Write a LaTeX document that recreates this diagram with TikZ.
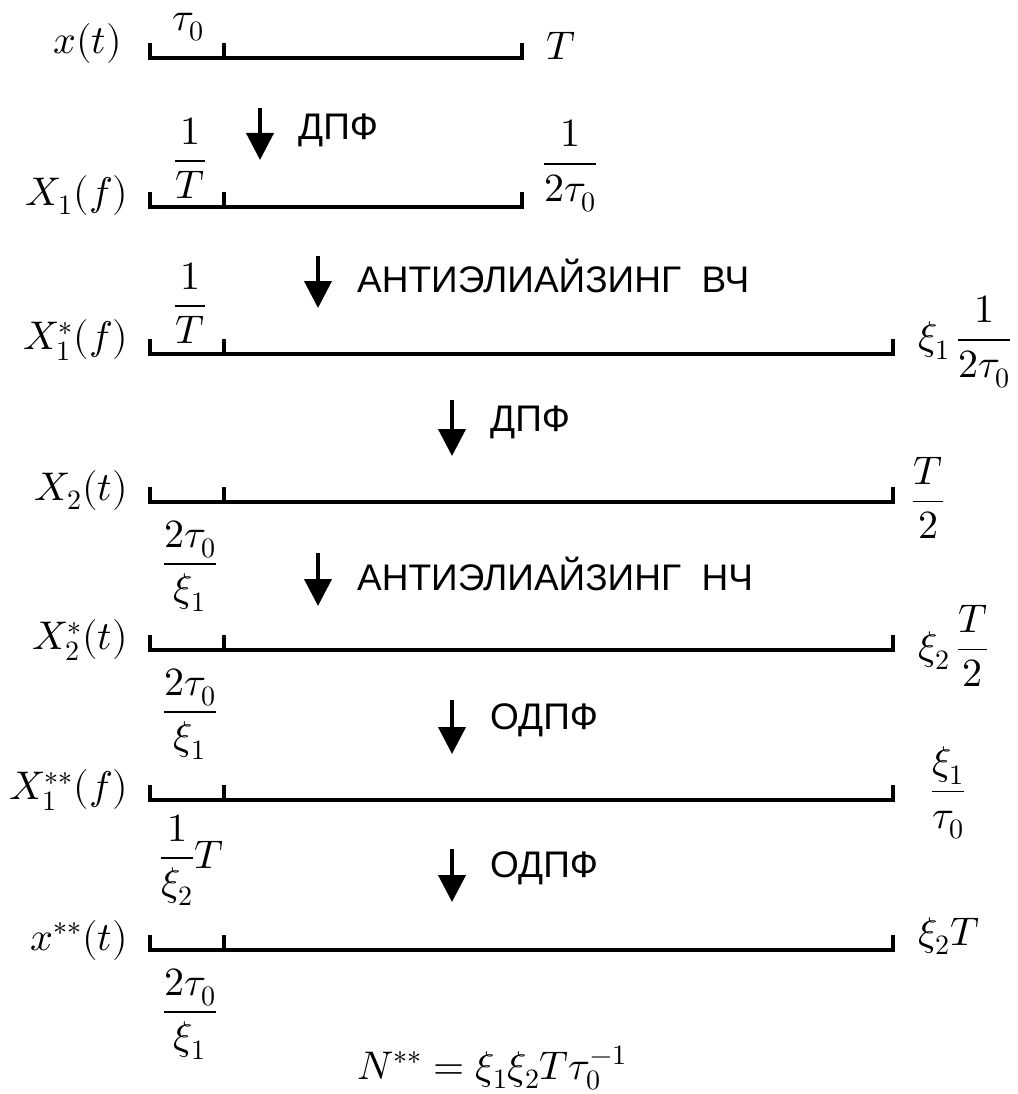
\documentclass[tikz,border=0pt]{standalone}
\usepackage{fontspec}
\usepackage{unicode-math}
\setmathfont{Latin Modern Math}
\newfontfamily\cyr{Liberation Sans}
\usetikzlibrary{arrows.meta}
\tikzset{
  mth/.style={inner sep=0pt, font=\fontsize{40}{48}\selectfont},
  cyrtxt/.style={inner sep=0pt, anchor=west, font=\cyr\fontsize{37}{44}\selectfont},
  scaleln/.style={line width=4pt, line cap=butt, line join=miter},
  downarr/.style={line width=4pt, -{Triangle[width=27pt,length=27pt]}}
}
\newcommand{\scaleline}[3]{% y, right x, name
  \draw[scaleln] (150,#1-15) -- (150,#1) -- (#2,#1) -- (#2,#1-15);
  \draw[scaleln] (224,#1) -- (224,#1-15);
  \coordinate (#3) at (150,#1);
}
\begin{document}
\begin{tikzpicture}[x=1pt,y=-1pt]
\useasboundingbox (0,0) rectangle (1017,1094);

% Row 1
\scaleline{58}{522}{l1}
\node[mth, anchor=east] (n1) at (122,44) {$x(t)$};
\node[mth, anchor=base] (a1) at (188,31) {$\tau_0$};
\node[mth, anchor=west] (b1) at (546,46) {$T$};
\coordinate (s1) at (260,108); \coordinate (e1) at (260,160);
\draw[downarr] (s1) -- (e1);
\node[cyrtxt] (t1) at (298,130) {ДПФ};

% Row 2
\scaleline{207}{522}{l2}
\node[mth, anchor=east] (n2) at (128,195) {$X_1(f)$};
\node[mth] (a2) at (190,158) {$\displaystyle\frac{1}{T}$};
\node[mth] (b2) at (570,166) {$\displaystyle\frac{1}{2\tau_0}$};
\coordinate (s2) at (318,256); \coordinate (e2) at (318,308);
\draw[downarr] (s2) -- (e2);
\node[cyrtxt] (t2) at (357,276) {АНТИЭЛИАЙЗИНГ\ \ ВЧ};

% Row 3
\scaleline{354}{893}{l3}
\node[mth, anchor=east] (n3) at (128,340) {$X_1^*(f)$};
\node[mth] (a3) at (190,303) {$\displaystyle\frac{1}{T}$};
\node[mth, anchor=west] (b3) at (918,342) {$\displaystyle\xi_1\,\frac{1}{2\tau_0}$};
\coordinate (s3) at (452,400); \coordinate (e3) at (452,456);
\draw[downarr] (s3) -- (e3);
\node[cyrtxt] (t3) at (490,422) {ДПФ};

% Row 4
\scaleline{502}{893}{l4}
\node[mth, anchor=east] (n4) at (128,490) {$X_2(t)$};
\node[mth] (a4) at (190,566) {$\displaystyle\frac{2\tau_0}{\xi_1}$};
\node[mth] (b4) at (928,498) {$\displaystyle\frac{T}{2}$};
\coordinate (s4) at (318,553); \coordinate (e4) at (318,606);
\draw[downarr] (s4) -- (e4);
\node[cyrtxt] (t4) at (357,574) {АНТИЭЛИАЙЗИНГ\ \ НЧ};

% Row 5
\scaleline{650}{893}{l5}
\node[mth, anchor=east] (n5) at (128,640) {$X_2^*(t)$};
\node[mth] (a5) at (190,714) {$\displaystyle\frac{2\tau_0}{\xi_1}$};
\node[mth, anchor=west] (b5) at (918,646) {$\displaystyle\xi_2\,\frac{T}{2}$};
\coordinate (s5) at (452,700); \coordinate (e5) at (452,754);
\draw[downarr] (s5) -- (e5);
\node[cyrtxt] (t5) at (490,720) {ОДПФ};

% Row 6
\scaleline{800}{893}{l6}
\node[mth, anchor=east] (n6) at (128,790) {$X_1^{**}(f)$};
\node[mth] (a6) at (192,860) {$\displaystyle\frac{1}{\xi_2}T$};
\node[mth] (b6) at (948,793) {$\displaystyle\frac{\xi_1}{\tau_0}$};
\coordinate (s6) at (452,849); \coordinate (e6) at (452,902);
\draw[downarr] (s6) -- (e6);
\node[cyrtxt] (t6) at (490,868) {ОДПФ};

% Row 7
\scaleline{950}{893}{l7}
\node[mth, anchor=east] (n7) at (128,940) {$x^{**}(t)$};
\node[mth] (a7) at (190,1014) {$\displaystyle\frac{2\tau_0}{\xi_1}$};
\node[mth, anchor=west] (b7) at (918,936) {$\xi_2T$};

% Formula
\node[mth, anchor=base] (f) at (492,1079) {$N^{**}=\xi_1\xi_2T\tau_0^{-1}$};
\end{tikzpicture}
\end{document}
